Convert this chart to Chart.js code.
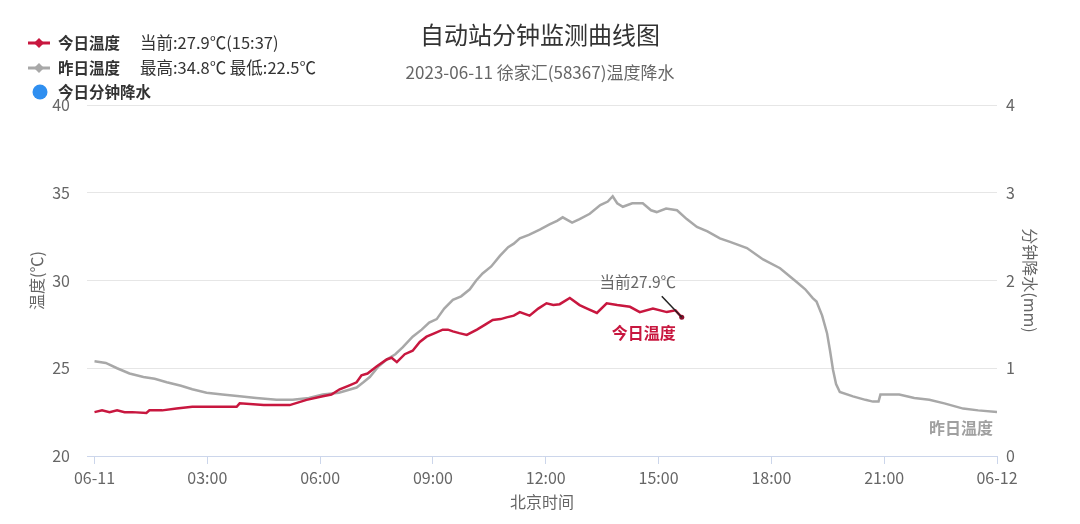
<!DOCTYPE html>
<html><head><meta charset="utf-8">
<script src="https://cdn.jsdelivr.net/npm/chart.js@4"></script>
<style>html,body{margin:0;padding:0;background:#fff}#wrap{width:1080px;height:524px;position:relative}</style>
</head><body><div id="wrap"><canvas id="c" width="1080" height="524"></canvas></div>
<script>
// ---- data (hours since 00:00 on 06-11, temperature in ℃) ----
const yesterdayTimes = [0.0,0.3,0.6,0.93,1.3,1.6,1.92,2.3,2.6,2.98,3.4,3.86,4.3,4.84,5.27,5.7,6.07,6.5,6.97,7.15,7.32,7.55,7.77,8.0,8.2,8.46,8.7,8.9,9.1,9.3,9.53,9.75,9.98,10.15,10.32,10.55,10.78,11.0,11.15,11.31,11.55,11.84,12.1,12.3,12.45,12.7,12.9,13.17,13.45,13.65,13.78,13.9,14.05,14.3,14.58,14.8,14.95,15.2,15.49,15.75,16.02,16.3,16.63,16.9,17.35,17.78,18.23,18.68,18.9,19.1,19.2,19.35,19.48,19.56,19.64,19.72,19.82,20.17,20.5,20.7,20.85,20.9,21.4,21.8,22.2,22.6,23.1,23.5,24.0];
const yesterdayTemps = [25.4,25.3,25.0,24.7,24.5,24.4,24.2,24.0,23.8,23.6,23.5,23.4,23.3,23.2,23.2,23.3,23.5,23.6,23.9,24.2,24.5,25.1,25.5,25.8,26.2,26.8,27.2,27.6,27.8,28.4,28.9,29.1,29.5,30.0,30.4,30.8,31.4,31.9,32.1,32.4,32.6,32.9,33.2,33.4,33.6,33.3,33.5,33.8,34.3,34.5,34.8,34.4,34.2,34.4,34.4,34.0,33.9,34.1,34.0,33.5,33.05,32.8,32.4,32.2,31.85,31.2,30.7,29.9,29.5,29.0,28.8,28.0,27.0,26.0,24.9,24.1,23.65,23.4,23.2,23.1,23.1,23.5,23.5,23.3,23.2,23.0,22.7,22.6,22.5];
const todayTimes = [0.0,0.2,0.4,0.6,0.8,1.0,1.38,1.46,1.8,2.18,2.6,3.2,3.78,3.86,4.5,5.19,5.64,6.07,6.3,6.52,6.75,6.97,7.1,7.26,7.5,7.77,7.9,8.04,8.25,8.46,8.65,8.83,9.05,9.26,9.4,9.53,9.7,9.9,10.17,10.4,10.59,10.8,10.96,11.15,11.31,11.57,11.8,12.02,12.2,12.37,12.64,12.9,13.1,13.36,13.62,13.9,14.24,14.5,14.85,15.22,15.45,15.617];
const todayTemps = [22.5,22.6,22.5,22.6,22.5,22.5,22.45,22.6,22.6,22.7,22.8,22.8,22.8,23.0,22.9,22.9,23.2,23.4,23.5,23.8,24.0,24.2,24.6,24.7,25.1,25.5,25.6,25.35,25.8,26.0,26.5,26.8,27.0,27.2,27.2,27.1,27.0,26.9,27.2,27.5,27.75,27.8,27.9,28.0,28.2,28.0,28.4,28.7,28.6,28.65,29.0,28.6,28.4,28.15,28.7,28.6,28.5,28.2,28.4,28.2,28.3,27.9];
const precipTimes = [];
const precipValues = [];
const xTickValues = [0,3,6,9,12,15,18,21,24];
const xTickLabels = ['06-11','03:00','06:00','09:00','12:00','15:00','18:00','21:00','06-12'];
const leftTickValues = [20,25,30,35,40];
const rightTickValues = [0,1,2,3,4];
const currentTimeLabel = '15:37';

const RED = '#c8173f', GRAY = '#a8a8a8', BLUE = '#2f8ff0';
const FONT = "'Noto Sans CJK SC','Noto Sans',sans-serif";
Chart.defaults.font.family = FONT;

const toXY = (ts, vs) => ts.map((t, i) => ({x: t, y: vs[i]}));
const curTemp = todayTemps[todayTemps.length - 1];
const yMax = Math.max(...yesterdayTemps), yMin = Math.min(...yesterdayTemps);

const textPlugin = {
  id: 'texts',
  afterDraw(chart) {
    const ctx = chart.ctx;
    ctx.save();
    const row = (y, color, name, extra, type) => {
      if (type === 'line') {
        ctx.strokeStyle = color; ctx.lineWidth = 3;
        ctx.beginPath(); ctx.moveTo(28, y); ctx.lineTo(50, y); ctx.stroke();
        ctx.fillStyle = color; ctx.beginPath();
        ctx.moveTo(39, y - 5); ctx.lineTo(44, y); ctx.lineTo(39, y + 5); ctx.lineTo(34, y); ctx.closePath(); ctx.fill();
      } else {
        ctx.fillStyle = color; ctx.beginPath(); ctx.arc(40, y, 7.5, 0, Math.PI * 2); ctx.fill();
      }
      ctx.fillStyle = '#333'; ctx.textBaseline = 'middle'; ctx.textAlign = 'left';
      ctx.font = 'bold 15.5px ' + FONT; ctx.fillText(name, 58, y);
      if (extra) { ctx.font = '16.5px ' + FONT; ctx.fillText(extra, 140, y); }
    };
    row(43, RED, '今日温度', '当前:' + curTemp.toFixed(1) + '℃(' + currentTimeLabel + ')', 'line');
    row(68, GRAY, '昨日温度', '最高:' + yMax.toFixed(1) + '℃ 最低:' + yMin.toFixed(1) + '℃', 'line');
    row(92, BLUE, '今日分钟降水', null, 'dot');
    const xs = chart.scales.x, ys = chart.scales.y;
    const px = xs.getPixelForValue(todayTimes[todayTimes.length - 1]);
    const py = ys.getPixelForValue(curTemp);
    ctx.strokeStyle = '#222'; ctx.lineWidth = 1.5;
    ctx.beginPath(); ctx.moveTo(px, py); ctx.lineTo(px - 20, py - 21); ctx.stroke();
    ctx.textAlign = 'center'; ctx.textBaseline = 'middle';
    ctx.font = '15.5px ' + FONT; ctx.fillStyle = '#666';
    ctx.fillText('当前' + curTemp.toFixed(1) + '℃', px - 44, py - 35);
    ctx.font = 'bold 16px ' + FONT; ctx.fillStyle = RED;
    ctx.fillText('今日温度', px - 38, py + 16);
    const gx = xs.getPixelForValue(yesterdayTimes[yesterdayTimes.length - 1]);
    const gy = ys.getPixelForValue(yesterdayTemps[yesterdayTemps.length - 1]);
    ctx.fillStyle = '#a0a0a0';
    ctx.fillText('昨日温度', gx - 36, gy + 16);
    ctx.restore();
  }
};

new Chart(document.getElementById('c'), {
  type: 'line',
  data: {
    datasets: [
      {label: '今日温度', data: toXY(todayTimes, todayTemps), borderColor: RED, backgroundColor: RED, borderWidth: 2.5, tension: 0,
        pointRadius: c => (c.dataIndex === todayTimes.length - 1 ? 2.5 : 0), pointBackgroundColor: '#8a0f2c', pointBorderWidth: 0, yAxisID: 'y'},
      {label: '昨日温度', data: toXY(yesterdayTimes, yesterdayTemps), borderColor: GRAY, backgroundColor: GRAY, borderWidth: 2.5, tension: 0, pointRadius: 0, yAxisID: 'y'},
      {label: '今日分钟降水', type: 'bar', data: toXY(precipTimes, precipValues), backgroundColor: BLUE, yAxisID: 'y1'}
    ]
  },
  options: {
    responsive: false, animation: false,
    layout: {padding: 0},
    plugins: {
      legend: {display: false}, tooltip: {enabled: false},
      title: {display: true, text: '自动站分钟监测曲线图', color: '#333', font: {size: 24, weight: 'normal'}, padding: {top: 20.6, bottom: 13.4}},
      subtitle: {display: true, text: '2023-06-11 徐家汇(58367)温度降水', color: '#666', font: {size: 17}, padding: {top: 0, bottom: 21.8}}
    },
    scales: {
      x: {type: 'linear', min: -0.2, max: 24, offset: false,
        afterBuildTicks: s => { s.ticks = xTickValues.map(v => ({value: v})); },
        afterFit: s => { s.height = 68; },
        ticks: {autoSkip: false, maxRotation: 0, color: '#666', font: {size: 16}, padding: 4,
          callback: v => xTickLabels[xTickValues.indexOf(v)]},
        grid: {offset: false, drawOnChartArea: false, drawTicks: true, tickLength: 8, color: '#ccd6eb'},
        border: {color: '#ccd6eb'},
        title: {display: true, text: '北京时间', color: '#666', font: {size: 16}, padding: {top: 0, bottom: 12.4}}
      },
      y: {position: 'left', min: 20, max: 40,
        afterBuildTicks: s => { s.ticks = leftTickValues.map(v => ({value: v})); },
        afterFit: s => { s.width = 87; },
        ticks: {color: '#666', font: {size: 16}, padding: 17},
        grid: {color: '#e6e6e6', drawTicks: false},
        border: {display: false},
        title: {display: true, text: '温度(℃)', color: '#666', font: {size: 16}, padding: {top: 27.4, bottom: 0}}
      },
      y1: {position: 'right', min: 0, max: 4,
        afterBuildTicks: s => { s.ticks = rightTickValues.map(v => ({value: v})); },
        afterFit: s => { s.width = 83; },
        ticks: {color: '#666', font: {size: 16}, padding: 9},
        grid: {drawOnChartArea: false, drawTicks: false},
        border: {display: false},
        title: {display: true, text: '分钟降水(mm)', color: '#666', font: {size: 16}, padding: {top: 40.4, bottom: 0}}
      }
    }
  },
  plugins: [textPlugin]
});
</script></body></html>
